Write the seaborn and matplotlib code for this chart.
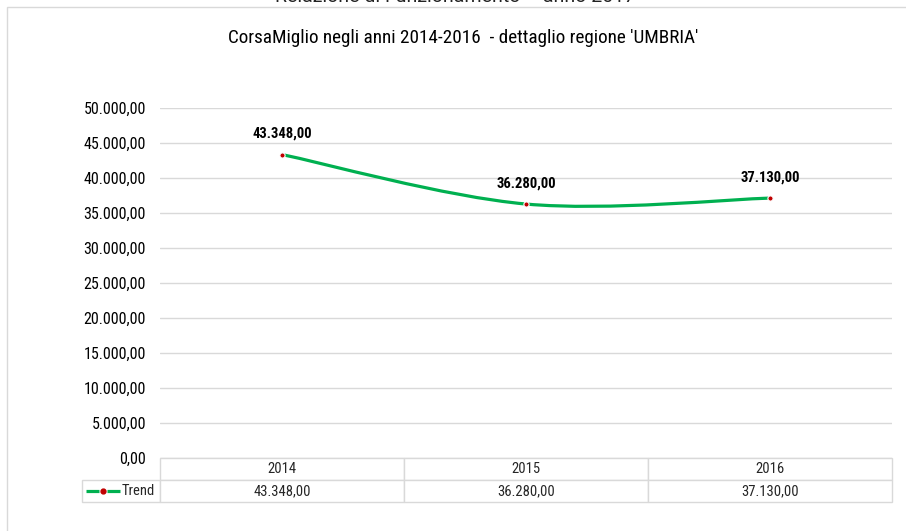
import numpy as np
import pandas as pd
import matplotlib
matplotlib.use("Agg")
import matplotlib.pyplot as plt
import seaborn as sns
from matplotlib.path import Path
from matplotlib.patches import PathPatch, Rectangle
from matplotlib.lines import Line2D
from matplotlib.ticker import FuncFormatter

years = ["2014", "2015", "2016"]
values = [43348.0, 36280.0, 37130.0]
series_name = "Trend"
title = "CorsaMiglio negli anni 2014-2016  - dettaglio regione 'UMBRIA'"
page_title = "Relazione di Funzionamento \u2013 anno 2017"
yticks = list(range(0, 50001, 5000))

GREEN = "#00B050"
RED = "#C00000"
GRID = "#D9D9D9"


def it_fmt(v, pos=None):
    s = f"{v:,.2f}"
    return s.replace(",", "X").replace(".", ",").replace("X", ".")


sns.set_style("white")
plt.rcParams["font.family"] = ["Roboto Condensed", "DejaVu Sans"]
plt.rcParams["font.stretch"] = "condensed"

df = pd.DataFrame({"x": np.arange(len(years)), "year": years, "value": values})

fig = plt.figure(figsize=(9.06, 5.31), dpi=100)
ax = fig.add_axes([160 / 906, 1 - 458 / 531, 732 / 906, 350 / 531])

# page frame and clipped page header
fig.add_artist(Rectangle((7 / 906, -0.05), 1.1, 1 - 7 / 531 + 0.05,
                         transform=fig.transFigure, fill=False,
                         edgecolor=GRID, lw=1))
fig.text(455 / 906, 1 - 2 / 531, page_title, ha="center", va="baseline",
         fontsize=14, color="#222222", family=["Roboto", "DejaVu Sans"],
         stretch="normal")

# smoothed line (Excel-like cardinal spline through the points)
x = df["x"].to_numpy(float)
y = df["value"].to_numpy(float)
px = np.r_[x[0], x, x[-1]]
py = np.r_[y[0], y, y[-1]]
verts = [(x[0], y[0])]
codes = [Path.MOVETO]
for i in range(1, len(px) - 2):
    c1 = (px[i] + (px[i + 1] - px[i - 1]) / 6, py[i] + (py[i + 1] - py[i - 1]) / 6)
    c2 = (px[i + 1] - (px[i + 2] - px[i]) / 6, py[i + 1] - (py[i + 2] - py[i]) / 6)
    verts += [c1, c2, (px[i + 1], py[i + 1])]
    codes += [Path.CURVE4] * 3
ax.add_patch(PathPatch(Path(verts, codes), fill=False, edgecolor=GREEN,
                       lw=2.3, capstyle="butt", zorder=2))

sns.scatterplot(data=df, x="x", y="value", ax=ax, color=RED, s=14,
                edgecolor="white", linewidth=0.8, zorder=3, legend=False)

for xi, yi in zip(x, y):
    ax.annotate(it_fmt(yi), (xi, yi), xytext=(0, 15), textcoords="offset points",
                ha="center", va="center", fontsize=10.5, fontweight="bold",
                color="#000000")

ax.set_xlim(-0.5, len(years) - 0.5)
ax.set_ylim(0, 50000)
ax.set_yticks(yticks)
ax.yaxis.set_major_formatter(FuncFormatter(it_fmt))
ax.tick_params(axis="y", length=0, labelsize=11.5, pad=10, labelcolor="#000000")
ax.set_xticks([])
ax.set_xlabel("")
ax.set_ylabel("")
ax.grid(axis="y", color=GRID, lw=1)
ax.set_axisbelow(True)
for sp in ax.spines.values():
    sp.set_visible(False)

fig.text(463 / 906, 1 - 38 / 531, title, ha="center", va="center",
         fontsize=13.8, color="#000000")

# data table under the plot (first column holds the legend entry)
label_w = 78 / 732
tbl = ax.table(cellText=[[series_name] + [it_fmt(v) for v in values]],
               colLabels=[""] + years,
               colWidths=[label_w] + [1 / len(years)] * len(years),
               cellLoc="center",
               bbox=[-label_w, -44 / 350, 1 + label_w, 44 / 350])
tbl.auto_set_font_size(False)
tbl.set_fontsize(10.5)
for (r, c), cell in tbl.get_celld().items():
    cell.set_edgecolor(GRID)
    cell.set_linewidth(1)
    if c == 0:
        cell.PAD = 0.06
        cell.get_text().set_ha("right")
        cell._loc = "right"
        if r == 0:
            cell.set_visible(False)

# legend key inside the row label cell
ly = -33 / 350
for x0, x1 in [(86, 99), (107, 120)]:
    ax.add_line(Line2D([(x0 - 160) / 732, (x1 - 160) / 732], [ly, ly],
                       transform=ax.transAxes, color=GREEN, lw=2.3,
                       solid_capstyle="butt", clip_on=False))
ax.add_line(Line2D([(103 - 160) / 732], [ly], transform=ax.transAxes, marker="o",
                   markersize=3.5, color=RED, lw=0, clip_on=False))

fig.savefig("out.png", dpi=100)
